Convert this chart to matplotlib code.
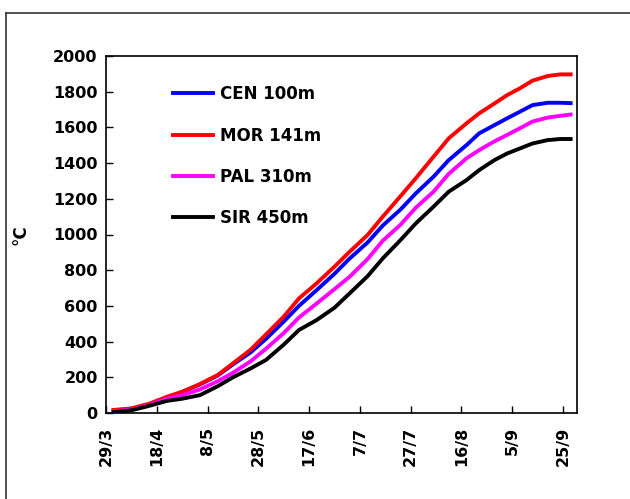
import matplotlib
matplotlib.use("Agg")
import matplotlib.pyplot as plt
from matplotlib.lines import Line2D

# days since 29/3
days = [3, 10, 17, 24, 30, 37, 44, 50, 57, 63, 70, 76, 83, 90, 96, 103, 109,
        116, 122, 129, 135, 142, 147, 153, 158, 163, 168, 174, 179, 183]

cen = [15, 22, 46, 85, 118, 160, 210, 272, 340, 415, 512, 600, 689, 780, 866,
       955, 1050, 1140, 1230, 1324, 1417, 1501, 1567, 1613, 1651, 1688, 1725,
       1738, 1738, 1736]
mor = [17, 26, 52, 91, 119, 162, 213, 278, 355, 440, 540, 642, 727, 820, 904,
       997, 1100, 1215, 1315, 1436, 1539, 1623, 1679, 1734, 1781, 1819, 1862,
       1888, 1897, 1897]
pal = [10, 18, 44, 80, 100, 132, 178, 225, 290, 360, 448, 535, 614, 694, 764,
       862, 965, 1055, 1150, 1240, 1340, 1427, 1473, 1522, 1558, 1595, 1633,
       1655, 1665, 1672]
sir = [5, 15, 40, 68, 80, 100, 150, 200, 250, 297, 383, 465, 521, 590, 671,
       766, 866, 969, 1062, 1156, 1240, 1305, 1361, 1417, 1454, 1482, 1510,
       1529, 1535, 1535]

series_labels = ["CEN 100m", "MOR 141m", "PAL 310m", "SIR 450m"]
series_colors = ["#0000ff", "#ff0000", "#ff00ff", "#000000"]

tick_days = [0, 20, 40, 60, 80, 100, 120, 140, 160, 180]
tick_labels = ["29/3", "18/4", "8/5", "28/5", "17/6", "7/7", "27/7", "16/8", "5/9", "25/9"]
y_ticks = [0, 200, 400, 600, 800, 1000, 1200, 1400, 1600, 1800, 2000]

fig = plt.figure(figsize=(6.30, 4.99), dpi=100)
ax = fig.add_axes([106/630, 1 - 413/499, (577-106)/630, (413-56)/499])

for vals, lab, col in zip([cen, mor, pal, sir], series_labels, series_colors):
    ax.plot(days, vals, color=col, lw=2.8, label=lab, solid_joinstyle="round")

ax.set_xlim(0, 185.5)
ax.set_ylim(0, 2000)
ax.set_xticks(tick_days)
ax.set_xticklabels(tick_labels, rotation=90, fontsize=11.5, fontweight="bold")
ax.set_yticks(y_ticks)
ax.set_yticklabels([str(v) for v in y_ticks], fontsize=11.5, fontweight="bold")
ax.tick_params(direction="in", length=5, width=1, pad=6)
ax.tick_params(axis="x", pad=10)
for s in ax.spines.values():
    s.set_linewidth(1.2)
ax.set_ylabel("°C", fontsize=12, fontweight="bold", labelpad=17)

leg = ax.legend(loc="upper left", bbox_to_anchor=(0.142, 0.918), frameon=False,
                prop={"weight": "bold", "size": 12},
                handlelength=2.4, handletextpad=0.4, labelspacing=1.4,
                borderpad=0, borderaxespad=0)

# outer frame (partly cut off)
fig.add_artist(Line2D([6/630, 1.0], [1 - 13/499, 1 - 13/499], color="#333333", lw=1.2,
                      transform=fig.transFigure))
fig.add_artist(Line2D([6/630, 6/630], [0, 1 - 13/499], color="#333333", lw=1.2,
                      transform=fig.transFigure))

fig.savefig("out.png", dpi=100)
